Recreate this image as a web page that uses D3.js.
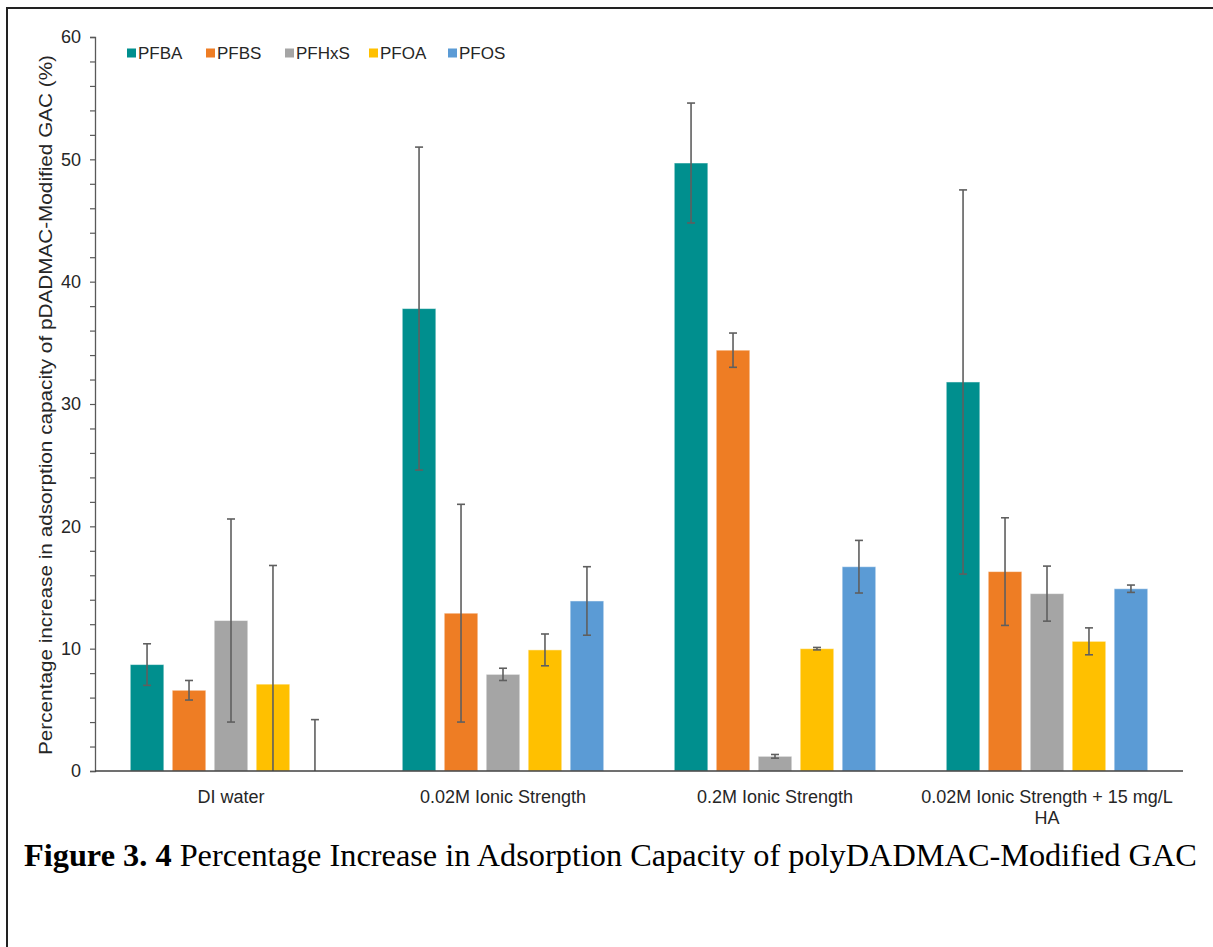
<!DOCTYPE html>
<html>
<head>
<meta charset="utf-8">
<script src="https://cdn.jsdelivr.net/npm/d3@7"></script>
<style>
  body { margin: 0; background: #fff; }
  svg { display: block; }
</style>
</head>
<body>
<div id="chart-area"></div>
<script>
/*
*    main.js
*/

//  Data

var categories = ["DI water", "0.02M Ionic Strength", "0.2M Ionic Strength", "0.02M Ionic Strength + 15 mg/L HA"];
var series = ["PFBA", "PFBS", "PFHxS", "PFOA", "PFOS"];
var colors = ["#008f8e", "#ee7d24", "#a5a5a5", "#ffc000", "#5b9bd5"];

var PFBA  = [8.7, 37.8, 49.7, 31.8];
var PFBS  = [6.6, 12.9, 34.4, 16.3];
var PFHxS = [12.3, 7.9, 1.2, 14.5];
var PFOA  = [7.1, 9.9, 10.0, 10.6];
var PFOS  = [0, 13.9, 16.7, 14.9];

var errPFBA  = [1.7, 13.2, 4.9, 15.7];
var errPFBS  = [0.8, 8.9, 1.4, 4.4];
var errPFHxS = [8.3, 0.5, 0.15, 2.25];
var errPFOA  = [9.7, 1.3, 0.1, 1.1];
var errPFOS  = [4.2, 2.8, 2.15, 0.3];

var yTicks = [0, 10, 20, 30, 40, 50, 60];

var values = [PFBA, PFBS, PFHxS, PFOA, PFOS];
var errors = [errPFBA, errPFBS, errPFHxS, errPFOA, errPFOS];

var rows = [];
categories.forEach((c, i) => {
    series.forEach((s, j) => {
        rows.push({cat: c, ser: s, v: values[j][i], e: errors[j][i], col: colors[j]});
    });
});

var W = 1213, H = 947;
var mLeft = 95, mRight = 1183, mTop = 37, mBottom = 771;
var font = "Liberation Sans, Arial, sans-serif";

var svg = d3.select("#chart-area").append("svg")
    .attr("width", W)
    .attr("height", H);

// frame lines (top and left edge of the page crop)
svg.append("line").attr("x1", 6).attr("x2", W).attr("y1", 8).attr("y2", 8)
    .attr("stroke", "#222").attr("stroke-width", 2);
svg.append("line").attr("x1", 7).attr("x2", 7).attr("y1", 7).attr("y2", H)
    .attr("stroke", "#222").attr("stroke-width", 2);

//  Scales

var x0 = d3.scaleBand()
    .domain(categories)
    .range([mLeft, mRight])
    .padding(0);

var x1 = d3.scaleBand()
    .domain(series)
    .range([0, x0.bandwidth()])
    .paddingInner(0.2)
    .paddingOuter(0.84);

var y = d3.scaleLinear()
    .domain([0, 60])
    .range([mBottom, mTop]);

svg.append("defs").append("clipPath").attr("id", "plot")
    .append("rect")
    .attr("x", mLeft).attr("y", mTop - 20)
    .attr("width", mRight - mLeft).attr("height", mBottom - mTop + 20);

//  Bars

var plot = svg.append("g").attr("clip-path", "url(#plot)");

plot.selectAll("rect.bar")
    .data(rows.filter((d) => d.v > 0))
    .enter()
    .append("rect")
    .attr("class", "bar")
    .attr("x", (d) => x0(d.cat) + x1(d.ser))
    .attr("y", (d) => y(d.v))
    .attr("width", x1.bandwidth())
    .attr("height", (d) => y(0) - y(d.v))
    .attr("fill", (d) => d.col)
    .attr("stroke", "#ffffff")
    .attr("stroke-opacity", 0.5)
    .attr("stroke-width", 1);

//  Error bars

var eb = plot.selectAll("g.err")
    .data(rows)
    .enter()
    .append("g")
    .attr("class", "err")
    .attr("stroke", "#5f5f5f")
    .attr("stroke-width", 1.6);

var cx = (d) => x0(d.cat) + x1(d.ser) + x1.bandwidth() / 2;

eb.append("line")
    .attr("x1", cx).attr("x2", cx)
    .attr("y1", (d) => y(d.v + d.e))
    .attr("y2", (d) => y(d.v - d.e));

eb.append("line")
    .attr("x1", (d) => cx(d) - 4).attr("x2", (d) => cx(d) + 4)
    .attr("y1", (d) => y(d.v + d.e)).attr("y2", (d) => y(d.v + d.e));

eb.append("line")
    .attr("x1", (d) => cx(d) - 4).attr("x2", (d) => cx(d) + 4)
    .attr("y1", (d) => y(d.v - d.e)).attr("y2", (d) => y(d.v - d.e));

//  Y axis

var yAxis = svg.append("g")
    .attr("transform", "translate(" + mLeft + ",0)")
    .call(d3.axisLeft(y).tickValues(d3.range(0, 61, 2)).tickSize(5)
        .tickFormat((d) => yTicks.indexOf(d) >= 0 ? d : ""));

yAxis.select(".domain").attr("stroke", "#595959").attr("stroke-width", 1.3);
yAxis.selectAll(".tick line").attr("stroke", "#595959").attr("stroke-width", 1.2);
yAxis.selectAll(".tick text")
    .attr("x", -14)
    .attr("font-family", font)
    .attr("font-size", 18)
    .attr("fill", "#262626");

//  X axis

svg.append("line")
    .attr("x1", mLeft).attr("x2", mRight)
    .attr("y1", y(0)).attr("y2", y(0))
    .attr("stroke", "#404040").attr("stroke-width", 1.5);

var xl = svg.selectAll("text.xlab")
    .data(categories)
    .enter()
    .append("text")
    .attr("class", "xlab")
    .attr("x", (d) => x0(d) + x0.bandwidth() / 2)
    .attr("y", 803)
    .attr("text-anchor", "middle")
    .attr("font-family", font)
    .attr("font-size", 18)
    .attr("fill", "#262626");

xl.each(function(d) {
    var t = d3.select(this);
    var parts = d.indexOf("mg/L") >= 0 ? [d.replace(" HA", ""), "HA"] : [d];
    parts.forEach((p, i) => {
        t.append("tspan")
            .attr("x", x0(d) + x0.bandwidth() / 2)
            .attr("dy", i === 0 ? 0 : 21)
            .text(p);
    });
});

//  Y title

svg.append("text")
    .attr("transform", "translate(52," + ((mTop + mBottom) / 2 + 1) + ") rotate(-90)")
    .attr("text-anchor", "middle")
    .attr("font-family", font)
    .attr("font-size", 18)
    .attr("textLength", 700)
    .attr("lengthAdjust", "spacingAndGlyphs")
    .attr("fill", "#262626")
    .text("Percentage increase in adsorption capacity of pDADMAC-Modified GAC (%)");

//  Legend

var legX = [127, 206, 285, 369, 448];

var leg = svg.selectAll("g.leg")
    .data(series)
    .enter()
    .append("g")
    .attr("class", "leg")
    .attr("transform", (d, i) => "translate(" + legX[i] + ",53)");

leg.append("rect")
    .attr("x", 0).attr("y", -4.5)
    .attr("width", 9).attr("height", 9)
    .attr("fill", (d, i) => colors[i]);

leg.append("text")
    .attr("x", 11)
    .attr("y", 6)
    .attr("font-family", font)
    .attr("font-size", 17)
    .attr("fill", "#262626")
    .text((d) => d);

//  Caption

var cap = svg.append("text")
    .attr("x", 24)
    .attr("y", 866)
    .attr("font-family", "Liberation Serif, Times New Roman, serif")
    .attr("font-size", 28)
    .attr("fill", "#000");

cap.append("tspan").attr("font-weight", "bold").text("Figure 3. 4");
cap.append("tspan").text(" Percentage Increase in Adsorption Capacity of polyDADMAC-Modified GAC");

var capW = cap.node().getComputedTextLength();
cap.attr("font-size", 28 * 1173 / capW);

</script>
</body>
</html>
